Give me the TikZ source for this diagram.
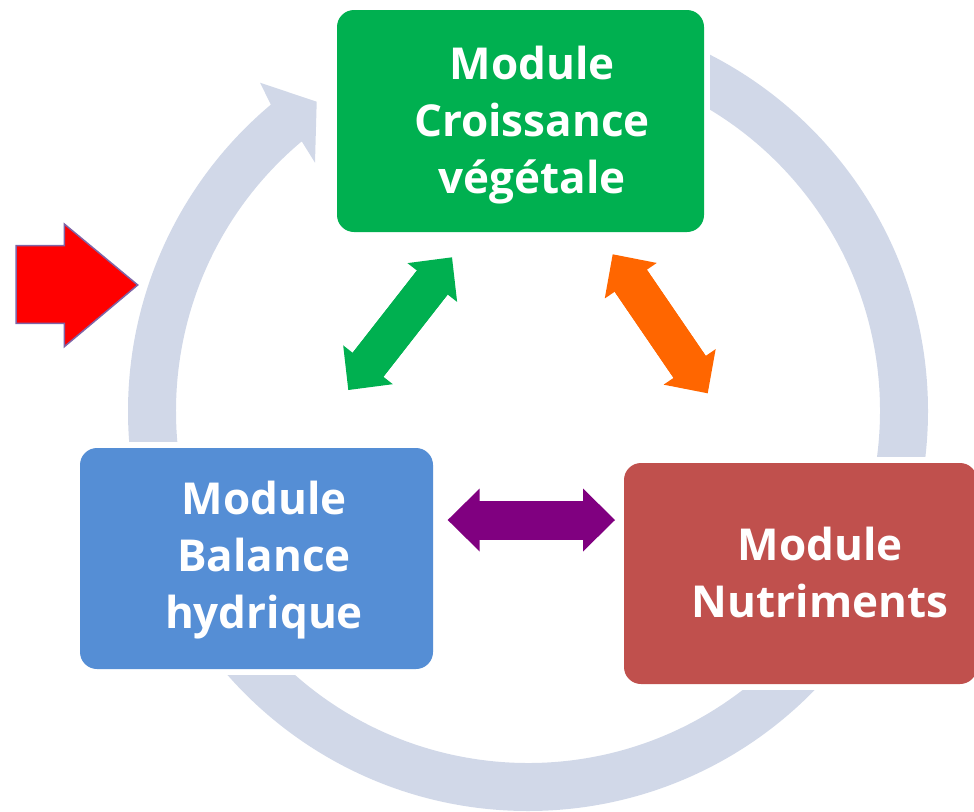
\documentclass[tikz,border=0pt]{standalone}
\usepackage{fontspec}
\setmainfont{Open Sans}
\definecolor{vgreen}{HTML}{00B050}
\definecolor{hblue}{HTML}{558ED5}
\definecolor{nred}{HTML}{C0504D}
\definecolor{ringgray}{HTML}{D1D8E8}
\definecolor{linkorange}{HTML}{FF6600}
\definecolor{linkpurple}{HTML}{800080}
\definecolor{edgepurple}{HTML}{7F64A6}
\usetikzlibrary{arrows.meta, calc, backgrounds}

\begin{document}
\begin{tikzpicture}[x=1pt, y=1pt,
    modbox/.style={rounded corners=17pt, inner sep=0pt, minimum height=221pt},
    modtext/.style={white, align=center, inner sep=0pt,
      font=\fontsize{44}{57}\selectfont\bfseries},
    biarrow/.style={line width=39pt,
      {Triangle[length=32pt,width=63pt,line width=0pt]}-{Triangle[length=32pt,width=63pt,line width=0pt]},
      postaction={draw, -, line width=39pt, shorten >=30pt, shorten <=30pt}}]
  \useasboundingbox (0,0) rectangle (974,-811);

  % modules
  \node[modbox, fill=vgreen, minimum width=367pt, minimum height=222pt] (veg) at (520.5,-121) {};
  \node[modbox, fill=hblue, minimum width=353pt] (hyd) at (256.5,-558.5) {};
  \node[modbox, fill=nred, minimum width=353pt] (nut) at (800.5,-573.5) {};
  \node[modtext] (veg-t) at (532,-125) {Module\\Croissance\\végétale};
  \node[modtext] (hyd-t) at (264,-560.5) {Module\\Balance\\hydrique};
  \node[modtext] (nut-t) at (820,-572) {Module\\Nutriments};

  % cycle behind the modules
  \begin{scope}[on background layer]
    \coordinate (ctr) at (528,-411);
    \fill[ringgray] ($(ctr)+(90:400)$) arc[start angle=90, end angle=-230, radius=400pt]
      -- (260,-82.7) -- (316.7,-101.7) -- (315,-162.7) -- ($(ctr)+(130:352)$)
      arc[start angle=130, end angle=450, radius=352pt] -- cycle;
    \foreach \m in {veg,hyd,nut}
      \fill[white] ([shift={(-5.5,-5.5)}]\m.south west) rectangle ([shift={(5.5,5.5)}]\m.north east);
  \end{scope}

  % input arrow
  \draw[edgepurple, fill=red, line width=1.5pt, line join=miter]
    (16,-245.7) -- (64.3,-245.7) -- (64.3,-224) -- (137.7,-285)
    -- (64.3,-346.7) -- (64.3,-323.3) -- (16,-323.3) -- cycle;

  % exchanges between modules
  \coordinate (gv1) at (452,-257.3);
  \coordinate (gv2) at (348.3,-390);
  \coordinate (on1) at (612.7,-254.3);
  \coordinate (on2) at (707.7,-393.3);
  \coordinate (ph1) at (447.7,-520);
  \coordinate (ph2) at (615,-520);
  \draw[biarrow, vgreen] (gv1) -- (gv2);
  \draw[biarrow, linkorange] (on1) -- (on2);
  \draw[biarrow, linkpurple] (ph1) -- (ph2);
\end{tikzpicture}
\end{document}
